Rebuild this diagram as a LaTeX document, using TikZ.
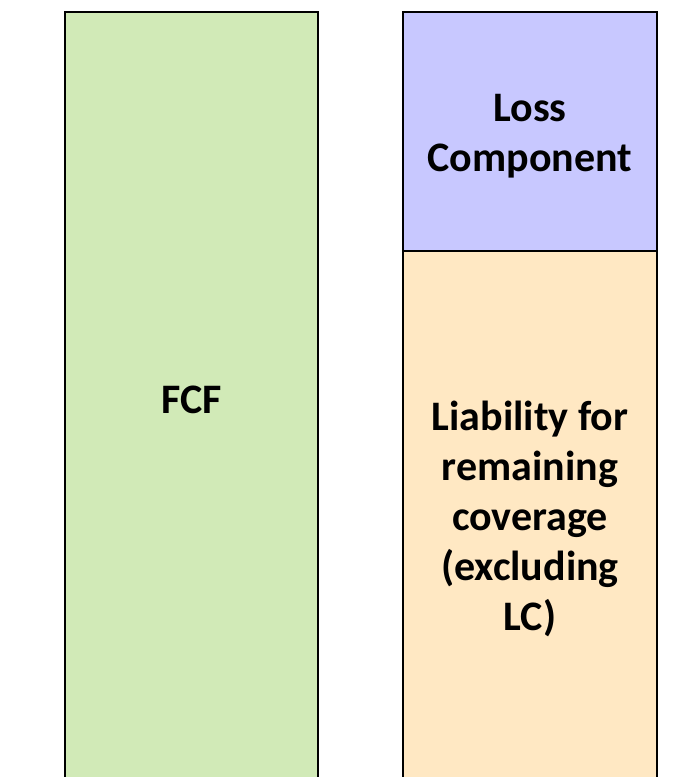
\documentclass[tikz,border=0pt]{standalone}
\usepackage{fontspec}
\setmainfont{Carlito}
\usepackage{tikz}

\definecolor{fcfgreen}{HTML}{D1EAB7}
\definecolor{lcblue}{HTML}{C8C8FF}
\definecolor{lrcorange}{HTML}{FFE8C3}

\begin{document}
\begin{tikzpicture}[x=1pt,y=-1pt,line width=1.5pt,
  lbl/.style={align=center,font=\bfseries\fontsize{42}{50}\selectfont}]
\useasboundingbox (0,0) rectangle (688,777);
\clip (0,0) rectangle (688,777);

%left column
\draw[fill=fcfgreen] (65,12) rectangle (318,800);
\node[lbl] (fcf) at (191.5,400) {FCF};

%right column
\draw[fill=lcblue] (403,12) rectangle (657,251);
\draw[fill=lrcorange] (403,251) rectangle (657,800);
\node[lbl] (lc) at (530,136) {Loss\\Component};
\node[lbl] (lrc) at (530,519) {Liability for\\remaining\\coverage\\(excluding\\LC)};
\end{tikzpicture}
\end{document}
